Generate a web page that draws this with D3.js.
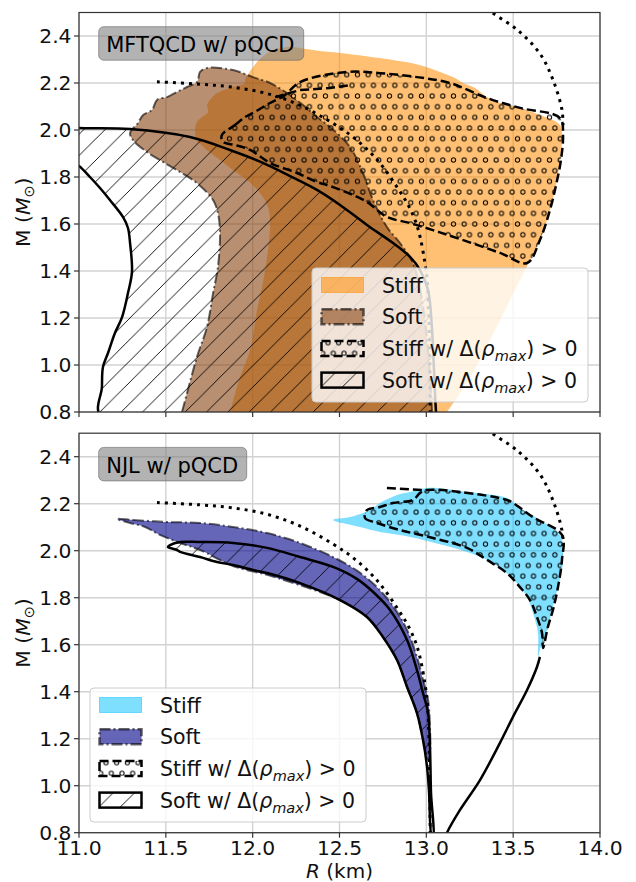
<!DOCTYPE html>
<html>
<head>
<meta charset="utf-8">
<script src="https://cdn.jsdelivr.net/npm/d3@7"></script>
<style>
  body { margin: 0; background: #fff; }
  svg { display: block; }
  text { font-family: "DejaVu Sans", sans-serif; }
</style>
</head>
<body>
<script>
const xTicks = [11.0, 11.5, 12.0, 12.5, 13.0, 13.5, 14.0];
const yTicks = [0.8, 1.0, 1.2, 1.4, 1.6, 1.8, 2.0, 2.2, 2.4];

// reference M-R curves (dotted), the same in both panels: [R km, M Msun]
const refSoftMR = [[11.449,2.205],[11.697,2.195],[11.887,2.182],[12.083,2.155],[12.273,2.105],[12.463,2.028],
  [12.578,1.970],[12.676,1.905],[12.750,1.843],[12.831,1.757],[12.889,1.689],[12.935,1.617],[12.964,1.545],
  [12.992,1.434],[13.006,1.35],[13.015,1.2],[13.02,1.0],[13.022,0.8]];
const refStiffMR = [[13.35,2.52],[13.378,2.50],[13.522,2.427],[13.654,2.325],[13.729,2.214],[13.781,2.086],[13.787,2.02]];

// MFTQCD w/ pQCD
const mftStiff = [[11.956,2.213],[12.025,2.289],[12.071,2.319],[12.117,2.340],[12.215,2.353],[12.273,2.349],
  [12.388,2.336],[12.503,2.328],[12.733,2.306],[12.964,2.276],[13.079,2.247],[13.165,2.221],[13.211,2.200],
  [13.280,2.179],[13.349,2.140],[13.424,2.115],[13.539,2.094],[13.654,2.064],[13.770,2.021],[13.781,1.957],
  [13.770,1.872],[13.747,1.766],[13.712,1.660],[13.666,1.553],[13.597,1.447],[13.482,1.277],[13.367,1.106],
  [13.251,0.945],[13.119,0.800],[13.10,0.78],[11.86,0.78],[11.869,0.800],[11.927,0.949],[11.985,1.064],
  [12.025,1.234],[12.059,1.349],[12.088,1.489],[12.100,1.604],[12.088,1.672],[12.042,1.732],[11.967,1.787],
  [11.887,1.830],[11.812,1.872],[11.737,1.915],[11.679,1.957],[11.668,2.000],[11.679,2.034],[11.708,2.055],
  [11.743,2.077],[11.737,2.106],[11.754,2.128],[11.795,2.157],[11.869,2.179],[11.956,2.200]];
const mftSoft = [[11.585,0.78],[11.593,0.80],[11.679,1.034],[11.737,1.162],[11.772,1.306],[11.800,1.417],
  [11.812,1.562],[11.800,1.647],[11.772,1.702],[11.679,1.774],[11.582,1.821],[11.484,1.864],[11.392,1.906],
  [11.311,1.957],[11.294,1.987],[11.340,2.030],[11.369,2.064],[11.420,2.085],[11.449,2.128],[11.507,2.140],
  [11.564,2.162],[11.622,2.183],[11.679,2.204],[11.697,2.247],[11.737,2.264],[11.887,2.255],[12.002,2.225],
  [12.100,2.200],[12.198,2.157],[12.290,2.106],[12.370,2.055],[12.445,2.013],[12.560,1.928],[12.635,1.817],
  [12.693,1.702],[12.773,1.587],[12.848,1.519],[12.923,1.434],[12.975,1.277],[13.010,1.064],[13.033,0.80],
  [13.035,0.78]];
const mftStiffDelta = [[11.823,1.979],[11.898,2.021],[11.956,2.055],[12.013,2.077],[12.100,2.115],[12.186,2.149],
  [12.273,2.204],[12.543,2.247],[12.733,2.242],[12.946,2.225],[13.136,2.200],[13.349,2.136],[13.539,2.094],
  [13.770,2.051],[13.787,1.979],[13.775,1.872],[13.747,1.766],[13.712,1.660],[13.654,1.532],[13.580,1.434],
  [13.424,1.477],[13.177,1.540],[13.038,1.574],[12.906,1.604],[12.773,1.630],[12.658,1.694],[12.463,1.757],
  [12.370,1.779],[12.255,1.817],[12.100,1.860],[11.985,1.915],[11.898,1.936],[11.841,1.945],[11.823,1.957]];
const mftStiffDeltaExtra = [[12.129,2.140],[12.273,2.170],[12.445,2.179],[12.560,2.191]];
const mftSoftDelta = [[11.127,0.78],[11.132,0.906],[11.138,0.991],[11.167,1.051],[11.207,1.136],[11.248,1.204],
  [11.282,1.306],[11.305,1.396],[11.294,1.519],[11.282,1.583],[11.253,1.630],[11.178,1.702],[11.121,1.753],
  [11.063,1.800],[11.000,1.847],[10.95,1.87],[10.95,2.012],[11.000,2.008],[11.294,2.004],[11.639,1.970],
  [11.869,1.915],[12.059,1.860],[12.215,1.804],[12.370,1.745],[12.503,1.681],[12.658,1.596],[12.808,1.519],
  [12.906,1.460],[12.964,1.404],[13.010,1.319],[13.033,1.149],[13.044,0.979],[13.056,0.80],[13.06,0.78]];

// NJL w/ pQCD
const njlStiff = [[12.463,2.131],[12.560,2.143],[12.676,2.173],[12.733,2.203],[12.831,2.237],[12.906,2.250],
  [13.004,2.267],[13.234,2.250],[13.464,2.224],[13.539,2.182],[13.654,2.131],[13.770,2.067],[13.787,1.990],
  [13.781,1.918],[13.758,1.845],[13.729,1.761],[13.700,1.676],[13.654,1.577],[13.643,1.548],[13.643,1.650],
  [13.614,1.735],[13.580,1.803],[13.522,1.862],[13.441,1.918],[13.349,1.961],[13.234,1.995],[13.096,2.024],
  [12.981,2.046],[12.848,2.067],[12.733,2.080],[12.618,2.101]];
const njlSoft = [[11.219,2.135],[11.311,2.131],[11.507,2.122],[11.697,2.118],[11.887,2.101],[12.083,2.075],
  [12.273,2.033],[12.463,1.973],[12.601,1.915],[12.716,1.845],[12.808,1.765],[12.889,1.663],[12.946,1.548],
  [12.981,1.450],[13.010,1.365],[13.021,1.250],[13.021,1.140],[13.010,1.109],[13.004,1.12],[12.981,1.194],
  [12.946,1.309],[12.889,1.420],[12.831,1.535],[12.750,1.633],[12.658,1.718],[12.503,1.790],[12.273,1.853],
  [12.083,1.897],[11.887,1.935],[11.697,2.003],[11.582,2.033],[11.466,2.067],[11.380,2.101],[11.294,2.118]];
const njlStiffDelta = [[12.658,2.173],[12.647,2.139],[12.716,2.118],[12.848,2.088],[13.038,2.054],[13.234,2.012],
  [13.349,1.961],[13.464,1.905],[13.539,1.845],[13.597,1.790],[13.637,1.718],[13.666,1.650],[13.672,1.586],
  [13.700,1.676],[13.729,1.748],[13.758,1.845],[13.781,1.961],[13.781,2.067],[13.614,2.143],[13.499,2.203],
  [13.464,2.216],[13.194,2.250],[13.004,2.258],[12.964,2.246],[12.923,2.216],[12.808,2.203],[12.733,2.186]];
const njlStiffDeltaExtra = [[12.773,2.267],[12.98,2.258]];
const njlSoftDelta = [[11.524,2.024],[11.582,2.037],[11.697,2.037],[11.887,2.033],[12.083,2.012],[12.273,1.973],
  [12.463,1.931],[12.600,1.880],[12.700,1.820],[12.791,1.748],[12.889,1.620],[12.946,1.492],[12.981,1.394],[13.010,1.309],
  [13.021,1.165],[13.027,0.969],[13.04,0.78],[13.032,0.78],[13.015,0.982],[13.004,1.080],[12.981,1.194],
  [12.946,1.309],[12.889,1.420],[12.831,1.535],[12.750,1.633],[12.658,1.718],[12.503,1.790],[12.273,1.862],
  [12.083,1.905],[12.002,1.918],[11.887,1.939],[11.795,1.952],[11.697,1.973],[11.582,1.995],[11.564,2.003],
  [11.512,2.016]];
const njlStiffLower = [[13.11,0.78],[13.119,0.80],[13.194,0.897],[13.309,1.024],[13.424,1.182],[13.499,1.293],
  [13.580,1.407],[13.637,1.505],[13.654,1.548]];

const W = 636, H = 882;
const svg = d3.select("body").append("svg").attr("width", W).attr("height", H);
const defs = svg.append("defs");

// matplotlib-like hatches: '/' lines 1/3 unit apart, 'o' circles 1/6 unit apart
const hs = 10.67, ls = 21.33;
const slash = defs.append("pattern").attr("id", "hatchSlash")
  .attr("patternUnits", "userSpaceOnUse").attr("width", ls).attr("height", ls);
slash.append("path")
  .attr("d", `M-2,2 l4,-4 M0,${ls} l${ls},${-ls} M${ls - 2},${ls + 2} l4,-4`)
  .attr("stroke", "#000").attr("stroke-width", 0.9);
const circ = defs.append("pattern").attr("id", "hatchCirc")
  .attr("patternUnits", "userSpaceOnUse").attr("width", hs).attr("height", 2 * hs);
[[0, 0], [hs, 0], [0, 2 * hs], [hs, 2 * hs], [hs / 2, hs]].forEach(([cx, cy]) => {
  circ.append("circle").attr("cx", cx).attr("cy", cy).attr("r", 2.1)
    .attr("fill", "none").attr("stroke", "#000").attr("stroke-width", 1);
});

const x = d3.scaleLinear().domain([11, 14]).range([79, 600]);
const closed = d3.line().curve(d3.curveCatmullRomClosed.alpha(0.5));
const open = d3.line().curve(d3.curveCatmullRom.alpha(0.5));

const panels = [
  { id: "mft", top: 12.5, bottom: 412, label: "MFTQCD w/ pQCD", boxW: 205,
    stiff: mftStiff, soft: mftSoft, stiffDelta: mftStiffDelta, softDelta: mftSoftDelta,
    extra: mftStiffDeltaExtra, lower: null,
    stiffColor: "darkorange", stiffOp: 0.55, softColor: "saddlebrown", softOp: 0.6,
    legendX: 312, legendY: 268, xLabels: false },
  { id: "njl", top: 433.2, bottom: 832.7, label: "NJL w/ pQCD", boxW: 148,
    stiff: njlStiff, soft: njlSoft, stiffDelta: njlStiffDelta, softDelta: njlSoftDelta,
    extra: njlStiffDeltaExtra, lower: njlStiffLower,
    stiffColor: "deepskyblue", stiffOp: 0.5, softColor: "darkblue", softOp: 0.6,
    legendX: 90, legendY: 688, xLabels: true }
];

function deltaLabel(sel, word) {
  sel.append("tspan").text(word + " w/ Δ(");
  sel.append("tspan").attr("font-style", "italic").text("ρ");
  sel.append("tspan").attr("font-style", "italic").attr("font-size", 14.5).attr("dy", 5).text("max");
  sel.append("tspan").attr("dy", -5).text(") > 0");
}

panels.forEach(p => {
  const y = d3.scaleLinear().domain([0.8, 2.5]).range([p.bottom, p.top]);
  const g = svg.append("g");
  const pts = arr => arr.map(d => [x(d[0]), y(d[1])]);

  defs.append("clipPath").attr("id", p.id + "-clip")
    .append("rect").attr("x", x(11)).attr("y", p.top)
    .attr("width", x(14) - x(11)).attr("height", p.bottom - p.top);

  // grid
  g.append("g").selectAll("line").data(xTicks).join("line")
    .attr("x1", d => x(d)).attr("x2", d => x(d)).attr("y1", p.top).attr("y2", p.bottom)
    .attr("stroke", "#d2d2d2").attr("stroke-width", 1.4);
  g.append("g").selectAll("line").data(yTicks).join("line")
    .attr("x1", x(11)).attr("x2", x(14)).attr("y1", d => y(d)).attr("y2", d => y(d))
    .attr("stroke", "#d2d2d2").attr("stroke-width", 1.4);

  const plot = g.append("g").attr("clip-path", `url(#${p.id}-clip)`);
  plot.append("path").attr("d", closed(pts(p.stiff)))
    .attr("fill", p.stiffColor).attr("fill-opacity", p.stiffOp).attr("stroke", "none");
  plot.append("path").attr("d", closed(pts(p.soft)))
    .attr("fill", p.softColor).attr("fill-opacity", p.softOp)
    .attr("stroke", "#000").attr("stroke-opacity", 0.6).attr("stroke-width", 2)
    .attr("stroke-dasharray", "11,3,2,3");
  plot.append("path").attr("d", closed(pts(p.stiffDelta)))
    .attr("fill", "url(#hatchCirc)").attr("stroke", "#000").attr("stroke-width", 2.5)
    .attr("stroke-dasharray", "9,4");
  plot.append("path").attr("d", d3.line()(pts(p.extra)))
    .attr("fill", "none").attr("stroke", "#000").attr("stroke-width", 2.5)
    .attr("stroke-dasharray", "9,4");
  plot.append("path").attr("d", closed(pts(p.softDelta)))
    .attr("fill", "url(#hatchSlash)").attr("stroke", "#000").attr("stroke-width", 2.5)
    .attr("stroke-linejoin", "round");
  if (p.lower) {
    plot.append("path").attr("d", open(pts(p.lower)))
      .attr("fill", "none").attr("stroke", "#000").attr("stroke-width", 2.5);
  }
  [refSoftMR, refStiffMR].forEach(c => {
    plot.append("path").attr("d", open(pts(c)))
      .attr("fill", "none").attr("stroke", "#000").attr("stroke-width", 3)
      .attr("stroke-dasharray", "3,5");
  });

  // spines
  g.append("rect").attr("x", x(11)).attr("y", p.top)
    .attr("width", x(14) - x(11)).attr("height", p.bottom - p.top)
    .attr("fill", "none").attr("stroke", "#333").attr("stroke-width", 1.2);

  // ticks
  g.append("g").selectAll("line").data(yTicks).join("line")
    .attr("x1", x(11) - 5).attr("x2", x(11)).attr("y1", d => y(d)).attr("y2", d => y(d))
    .attr("stroke", "#333").attr("stroke-width", 1.2);
  g.append("g").selectAll("text").data(yTicks).join("text")
    .attr("x", x(11) - 7.5).attr("y", d => y(d)).attr("dy", "0.35em")
    .attr("text-anchor", "end").attr("font-size", 20.3).attr("fill", "#111")
    .text(d => d.toFixed(1));
  g.append("g").selectAll("line").data(xTicks).join("line")
    .attr("x1", d => x(d)).attr("x2", d => x(d)).attr("y1", p.bottom).attr("y2", p.bottom + 5)
    .attr("stroke", "#333").attr("stroke-width", 1.2);
  if (p.xLabels) {
    g.append("g").selectAll("text").data(xTicks).join("text")
      .attr("x", d => x(d)).attr("y", p.bottom + 22.5)
      .attr("text-anchor", "middle").attr("font-size", 20.3).attr("fill", "#111")
      .text(d => d.toFixed(1));
  }

  // y label
  const yl = g.append("text")
    .attr("transform", `translate(30,${(p.top + p.bottom) / 2}) rotate(-90)`)
    .attr("text-anchor", "middle").attr("font-size", 20.3).attr("fill", "#111");
  yl.append("tspan").text("M (");
  yl.append("tspan").attr("font-style", "italic").text("M");
  yl.append("tspan").attr("font-size", 14.5).attr("dy", 4).text("⊙");
  yl.append("tspan").attr("dy", -4).text(")");

  // annotation box
  const bx = 98.7, by = p.top + 14.2;
  g.append("rect").attr("x", bx).attr("y", by).attr("width", p.boxW).attr("height", 33.5)
    .attr("rx", 5).attr("fill", "gray").attr("fill-opacity", 0.6)
    .attr("stroke", "#666").attr("stroke-opacity", 0.6);
  g.append("text").attr("x", bx + 7.5).attr("y", by + 25.5)
    .attr("font-size", 21).attr("fill", "#000").text(p.label);

  // legend
  const lg = g.append("g").attr("transform", `translate(${p.legendX},${p.legendY})`);
  lg.append("rect").attr("width", 276).attr("height", 134).attr("rx", 4)
    .attr("fill", "#fff").attr("fill-opacity", 0.8).attr("stroke", "#ccc").attr("stroke-width", 1);
  const rows = [
    { fill: p.stiffColor, fop: p.stiffOp, stroke: p.stiffColor, sop: p.stiffOp, sw: 1, dash: null },
    { fill: p.softColor, fop: p.softOp, stroke: "#000", sop: 0.6, sw: 2.5, dash: "11,3,2,3" },
    { fill: "url(#hatchCirc)", fop: 1, stroke: "#000", sop: 1, sw: 2.5, dash: "9,4", word: "Stiff" },
    { fill: "url(#hatchSlash)", fop: 1, stroke: "#000", sop: 1, sw: 2.5, dash: null, word: "Soft" }
  ];
  const names = ["Stiff", "Soft"];
  rows.forEach((r, i) => {
    const cy = 17 + i * 31.7;
    lg.append("rect").attr("x", 9.5).attr("y", cy - 7.5).attr("width", 42).attr("height", 15)
      .attr("fill", r.fill).attr("fill-opacity", r.fop)
      .attr("stroke", r.stroke).attr("stroke-opacity", r.sop).attr("stroke-width", r.sw)
      .attr("stroke-dasharray", r.dash);
    const t = lg.append("text").attr("x", 70).attr("y", cy + 7.5)
      .attr("font-size", 20.5).attr("fill", "#111");
    if (i < 2) t.text(names[i]);
    else deltaLabel(t, r.word);
  });
});

// x label
const xl = svg.append("text").attr("x", (x(11) + x(14)) / 2).attr("y", 877.5)
  .attr("text-anchor", "middle").attr("font-size", 20).attr("fill", "#111");
xl.append("tspan").attr("font-style", "italic").text("R");
xl.append("tspan").text(" (km)");
</script>
</body>
</html>
